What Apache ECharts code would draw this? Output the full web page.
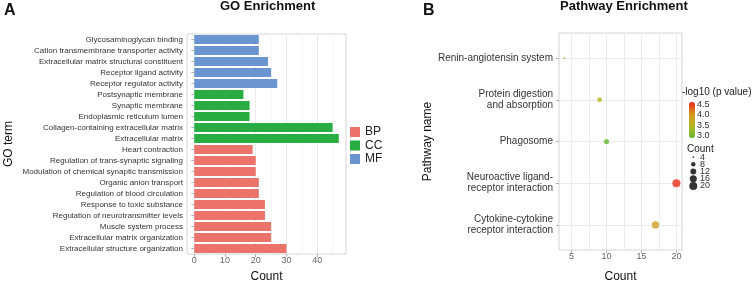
<!DOCTYPE html>
<html>
<head>
<meta charset="utf-8">
<script src="https://cdn.jsdelivr.net/npm/echarts@6/dist/echarts.min.js"></script>
<style>
  html, body { margin: 0; padding: 0; background: #fff; }
  #chart { width: 753px; height: 281px; }
</style>
</head>
<body>
<div id="chart"></div>
<script>
// GO terms, top to bottom as drawn
const goTerms = [
  'Glycosaminoglycan binding',
  'Cation transmembrane transporter activity',
  'Extracellular matrix structural constituent',
  'Receptor ligand activity',
  'Receptor regulator activity',
  'Postsynaptic membrane',
  'Synaptic membrane',
  'Endoplasmic reticulum lumen',
  'Collagen-containing extracellular matrix',
  'Extracellular matrix',
  'Heart contraction',
  'Regulation of trans-synaptic signaling',
  'Modulation of chemical synaptic transmission',
  'Organic anion transport',
  'Regulation of blood circulation',
  'Response to toxic substance',
  'Regulation of neurotransmitter levels',
  'Muscle system process',
  'Extracellular matrix organization',
  'Extracellular structure organization'
]
const goCounts = [21, 21, 24, 25, 27, 16, 18, 18, 45, 47, 19, 20, 20, 21, 21, 23, 23, 25, 25, 30]
const goGroups = ['MF', 'MF', 'MF', 'MF', 'MF', 'CC', 'CC', 'CC', 'CC', 'CC',
  'BP', 'BP', 'BP', 'BP', 'BP', 'BP', 'BP', 'BP', 'BP', 'BP']
const groupNames = ['BP', 'CC', 'MF']
const goTicks = [0, 10, 20, 30, 40]
const goMinorTicks = [5, 15, 25, 35, 45]

// KEGG pathways, top to bottom
const pathways = [
  'Renin-angiotensin system',
  'Protein digestion\nand absorption',
  'Phagosome',
  'Neuroactive ligand-\nreceptor interaction',
  'Cytokine-cytokine\nreceptor interaction'
]
const pathwayCounts = [4, 9, 10, 20, 17]
const pathwayLogP = [3.15, 3.5, 2.95, 4.55, 3.9]
const pathwayTicks = [5, 10, 15, 20]
const pathwayMinorTicks = [7.5, 12.5, 17.5]
const logPTicks = [3.0, 3.5, 4.0, 4.5]
const sizeBreaks = [4, 8, 12, 16, 20]

const FONT = 'Liberation Sans, Arial, sans-serif'
const groupColors = { BP: '#ec7369', CC: '#27ad42', MF: '#6b95d0' }

// ggplot-like area scale for dot size
const dotSize = c => Math.sqrt(1 + 35 * (c - 4) / 16) * 1.25 + 0.5

const chart = echarts.init(document.getElementById('chart'))

const tickStyle = { show: true, length: 3, lineStyle: { color: '#b3b3b3' } }
const majorLine = { show: true, lineStyle: { color: '#ebebeb', width: 1 } }
const minorLine = { show: true, lineStyle: { color: '#f5f5f5', width: 1 } }

const option = {
  animation: false,
  textStyle: { fontFamily: FONT },
  title: [
    { text: 'A', left: 4, top: 3, padding: 0, textStyle: { fontSize: 16, fontWeight: 'bold', color: '#111', fontFamily: FONT } },
    { text: 'GO Enrichment', left: 220, top: 0, padding: 0, textStyle: { fontSize: 13, fontWeight: 'bold', color: '#111', fontFamily: FONT } },
    { text: 'B', left: 423, top: 3, padding: 0, textStyle: { fontSize: 16, fontWeight: 'bold', color: '#111', fontFamily: FONT } },
    { text: 'Pathway Enrichment', left: 560, top: 0, padding: 0, textStyle: { fontSize: 13, fontWeight: 'bold', color: '#111', fontFamily: FONT } },
    { text: '-log10 (p value)', left: 682, top: 87, padding: 0, textStyle: { fontSize: 10, fontWeight: 'normal', color: '#222', fontFamily: FONT } },
    { text: 'Count', left: 687, top: 144, padding: 0, textStyle: { fontSize: 10, fontWeight: 'normal', color: '#222', fontFamily: FONT } }
  ],
  legend: {
    data: groupNames,
    orient: 'vertical',
    left: 350,
    top: 126,
    padding: 0,
    itemWidth: 10,
    itemHeight: 10,
    itemGap: 1.5,
    icon: 'rect',
    textStyle: { fontSize: 12, color: '#222', fontFamily: FONT }
  },
  grid: [
    { left: 187, top: 34, width: 159, height: 220, outerBoundsMode: 'none', show: true, borderColor: '#d4d4d4', borderWidth: 1, backgroundColor: 'transparent' },
    { left: 559, top: 33, width: 123, height: 217, outerBoundsMode: 'none', show: true, borderColor: '#d4d4d4', borderWidth: 1, backgroundColor: 'transparent' },
    { left: 689, top: 102, width: 6, height: 36, outerBoundsMode: 'none' },
    { left: 693, top: 153.5, width: 1, height: 36, outerBoundsMode: 'none' }
  ],
  xAxis: [
    {
      gridIndex: 0, type: 'value', min: -2.35, max: 49.35,
      name: 'Count', nameLocation: 'middle', nameGap: 17,
      nameTextStyle: { fontSize: 12, color: '#111' },
      axisLine: { show: false },
      axisTick: Object.assign({ customValues: goTicks }, tickStyle),
      axisLabel: { customValues: goTicks, fontSize: 9, color: '#666', margin: 2 },
      splitLine: majorLine
    },
    {
      gridIndex: 0, type: 'value', min: -2.35, max: 49.35,
      axisLine: { show: false },
      axisTick: { show: false, customValues: goMinorTicks },
      axisLabel: { show: false, customValues: goMinorTicks },
      splitLine: minorLine
    },
    {
      gridIndex: 1, type: 'value', min: 3.2, max: 20.8,
      name: 'Count', nameLocation: 'middle', nameGap: 21,
      nameTextStyle: { fontSize: 12, color: '#111' },
      axisLine: { show: false },
      axisTick: Object.assign({ customValues: pathwayTicks }, tickStyle),
      axisLabel: { customValues: pathwayTicks, fontSize: 9, color: '#666', margin: 2 },
      splitLine: majorLine
    },
    {
      gridIndex: 1, type: 'value', min: 3.2, max: 20.8,
      axisLine: { show: false },
      axisTick: { show: false, customValues: pathwayMinorTicks },
      axisLabel: { show: false, customValues: pathwayMinorTicks },
      splitLine: majorLine
    },
    { gridIndex: 2, type: 'value', min: 0, max: 1, show: false },
    { gridIndex: 3, type: 'value', min: 0, max: 1, show: false }
  ],
  yAxis: [
    {
      gridIndex: 0, type: 'category', inverse: true, data: goTerms,
      name: 'GO term', nameLocation: 'middle', nameGap: 172,
      nameTextStyle: { fontSize: 12, color: '#111' },
      axisLine: { show: false },
      axisTick: Object.assign({ alignWithLabel: true }, tickStyle),
      axisLabel: { fontSize: 8, color: '#333', margin: 4, interval: 0 },
      splitLine: { show: false }
    },
    {
      gridIndex: 1, type: 'value', inverse: true, min: 0.4, max: 5.6,
      name: 'Pathway name', nameLocation: 'middle', nameGap: 119,
      nameTextStyle: { fontSize: 12, color: '#111' },
      axisLine: { show: false },
      axisTick: Object.assign({ customValues: [1, 2, 3, 4, 5] }, tickStyle),
      axisLabel: {
        customValues: [1, 2, 3, 4, 5],
        formatter: v => pathways[Math.round(v) - 1],
        fontSize: 10, color: '#333', margin: 6, lineHeight: 11, align: 'right'
      },
      splitLine: majorLine
    },
    {
      gridIndex: 2, type: 'value', min: 2.9, max: 4.6, position: 'right',
      axisLine: { show: false },
      axisTick: { show: false, customValues: logPTicks },
      axisLabel: { customValues: logPTicks, formatter: v => v.toFixed(1), fontSize: 9, color: '#333', margin: 2 },
      splitLine: { show: false }
    },
    {
      gridIndex: 3, type: 'category', inverse: true, position: 'right',
      data: sizeBreaks.map(String),
      axisLine: { show: false },
      axisTick: { show: false },
      axisLabel: { fontSize: 9, color: '#333', margin: 6, interval: 0 },
      splitLine: { show: false }
    }
  ],
  visualMap: {
    type: 'continuous',
    seriesIndex: 3,
    dimension: 2,
    min: 2.9,
    max: 4.6,
    left: 689,
    top: 102,
    padding: 0,
    itemWidth: 6,
    itemHeight: 36,
    calculable: false,
    inRange: { color: ['#5fb733', '#b4b820', '#d8961e', '#ee241c'] }
  },
  series: [
    ...groupNames.map(g => ({
      name: g,
      type: 'bar',
      xAxisIndex: 0,
      yAxisIndex: 0,
      stack: 'go',
      barCategoryGap: '18%',
      itemStyle: { color: groupColors[g] },
      data: goCounts.map((c, i) => (goGroups[i] === g ? c : null))
    })),
    {
      name: 'pathway',
      type: 'scatter',
      xAxisIndex: 2,
      yAxisIndex: 1,
      symbolSize: v => dotSize(v[0]),
      data: pathways.map((p, i) => [pathwayCounts[i], i + 1, pathwayLogP[i]])
    },
    {
      name: 'sizeLegend',
      type: 'scatter',
      xAxisIndex: 5,
      yAxisIndex: 3,
      symbolSize: v => dotSize(v[2]),
      itemStyle: { color: '#000' },
      data: sizeBreaks.map((s, i) => [0.3, i, s])
    }
  ]
}

chart.setOption(option)
</script>
</body>
</html>
